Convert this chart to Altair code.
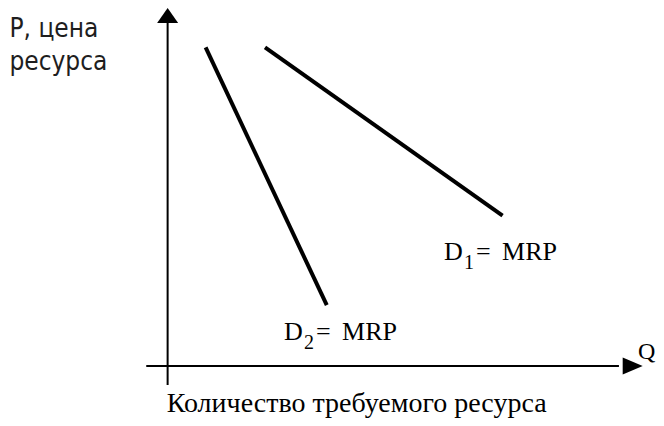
import altair as alt
import pandas as pd

# ---- data (Q = quantity of resource, P = price of resource) ----
curve_names = ["D1", "D1", "D2", "D2"]
curve_q = [2.05, 7.05, 0.80, 3.35]
curve_p = [8.90, 4.20, 8.90, 1.70]

axis_names = ["P", "Q"]
axis_q_from = [0.0, -0.45]
axis_q_to = [0.0, 9.5]
axis_p_from = [-0.53, 0.0]
axis_p_to = [9.6, 0.0]

arrow_q = [10.0, 0.0]
arrow_p = [0.0, 10.0]

label_sub = ["1", "2"]
label_q = [5.82, 2.45]
label_p = [2.96, 0.73]

ylabel_lines = ["P, цена", "ресурса"]
ylabel_q = [-3.33, -3.33]
ylabel_p = [9.19, 8.27]

xlabel_text = ["Количество требуемого ресурса"]
xlabel_q = [-0.02]
xlabel_p = [-1.27]

qlabel_text = ["Q"]
qlabel_q = [9.9]
qlabel_p = [0.2]

X_DOMAIN = [-3.36, 10.28]
Y_DOMAIN = [-1.45, 10.0]

xs = alt.Scale(domain=X_DOMAIN, nice=False, zero=False)
ys = alt.Scale(domain=Y_DOMAIN, nice=False, zero=False)


def X(f):
    return alt.X(f, type="quantitative", scale=xs, axis=None)


def Y(f):
    return alt.Y(f, type="quantitative", scale=ys, axis=None)


curves = pd.DataFrame({"curve": curve_names, "q": curve_q, "p": curve_p})
axes = pd.DataFrame({"axis": axis_names, "q1": axis_q_from, "q2": axis_q_to,
                     "p1": axis_p_from, "p2": axis_p_to})
arrows = pd.DataFrame({"q": arrow_q, "p": arrow_p, "axis": ["Q", "P"]})
labels = pd.DataFrame({"sub": label_sub, "q": label_q, "p": label_p})
ylab = pd.DataFrame({"t": ylabel_lines, "q": ylabel_q, "p": ylabel_p})
xlab = pd.DataFrame({"t": xlabel_text, "q": xlabel_q, "p": xlabel_p})
qlab = pd.DataFrame({"t": qlabel_text, "q": qlabel_q, "p": qlabel_p})

axis_rules = alt.Chart(axes).mark_rule(color="black", strokeWidth=2).encode(
    x=X("q1"), x2="q2", y=Y("p1"), y2="p2"
)

demand = alt.Chart(curves).mark_line(color="black", strokeWidth=4, strokeCap="butt").encode(
    x=X("q"), y=Y("p"), detail="curve:N"
)

arrow_x = alt.Chart(arrows).transform_filter(alt.datum.axis == "Q").mark_point(
    shape="M0,0L-1,-0.425L-1,0.425Z", size=1600, filled=True, color="black",
    opacity=1, strokeWidth=0
).encode(x=X("q"), y=Y("p"))

arrow_y = alt.Chart(arrows).transform_filter(alt.datum.axis == "P").mark_point(
    shape="M0,0L-0.7,1L0.7,1Z", size=900, filled=True, color="black",
    opacity=1, strokeWidth=0
).encode(x=X("q"), y=Y("p"))

serif = "Liberation Serif"

lab_d = alt.Chart(labels).mark_text(
    text="D", font=serif, fontSize=26, align="left", baseline="alphabetic", color="black"
).encode(x=X("q"), y=Y("p"))

lab_sub = alt.Chart(labels).mark_text(
    font=serif, fontSize=20, align="left", baseline="alphabetic", color="black", dx=20, dy=9
).encode(x=X("q"), y=Y("p"), text="sub:N")

lab_eq = alt.Chart(labels).mark_text(
    text="=", font=serif, fontSize=26, align="left", baseline="alphabetic", color="black", dx=32
).encode(x=X("q"), y=Y("p"))

lab_mrp = alt.Chart(labels).mark_text(
    text="MRP", font=serif, fontSize=26, align="left", baseline="alphabetic", color="black", dx=58
).encode(x=X("q"), y=Y("p"))

ylabel = alt.Chart(ylab).mark_text(
    font="DejaVu Sans Condensed, DejaVu Sans", fontSize=26, align="left",
    baseline="alphabetic", color="#1e1e1e"
).encode(x=X("q"), y=Y("p"), text="t:N")

xlabel = alt.Chart(xlab).mark_text(
    font=serif, fontSize=28, align="left", baseline="alphabetic", color="black"
).encode(x=X("q"), y=Y("p"), text="t:N")

qlabel = alt.Chart(qlab).mark_text(
    font=serif, fontSize=24, align="left", baseline="alphabetic", color="black"
).encode(x=X("q"), y=Y("p"), text="t:N")

chart = alt.layer(
    axis_rules, demand, arrow_x, arrow_y, lab_d, lab_sub, lab_eq, lab_mrp,
    ylabel, xlabel, qlabel
).properties(
    width=648, height=410, padding=0, autosize="none", background="white"
).configure_view(stroke=None)

chart.save("out.html", embed_options={"renderer": "svg", "actions": False})
